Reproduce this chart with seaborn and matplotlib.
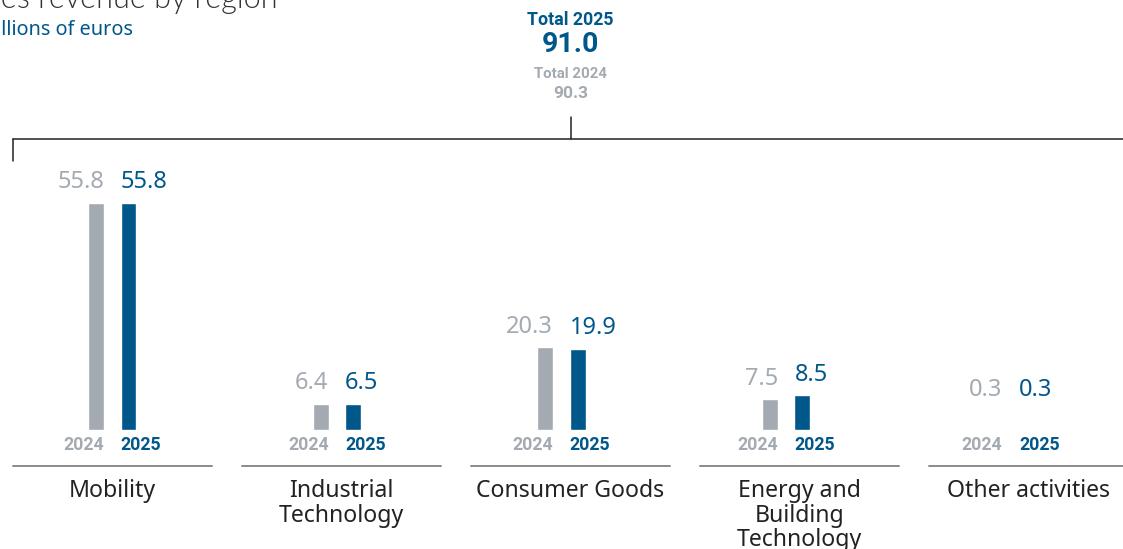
"""Sales revenue by business sector, 2024 vs 2025."""

import matplotlib.pyplot as plt
import pandas as pd
import seaborn as sns
from matplotlib.lines import Line2D

segments = ["Mobility", "Industrial\nTechnology", "Consumer Goods",
            "Energy and\nBuilding\nTechnology", "Other activities"]
years = ["2024", "2025"]
sales_2024 = [55.8, 6.4, 20.3, 7.5, 0.3]
sales_2025 = [55.8, 6.5, 19.9, 8.5, 0.3]
total_2024 = 90.3
total_2025 = 91.0

BLUE = "#00578A"
GRAY = "#A4AAB1"
DARK = "#222222"
BOLD = ["Roboto", "DejaVu Sans"]
W, H = 1123, 549

df = pd.DataFrame({
    "segment": segments * 2,
    "year": [years[0]] * len(segments) + [years[1]] * len(segments),
    "sales": sales_2024 + sales_2025,
})

sns.set_theme(style="white")
plt.rcParams["font.family"] = ["Noto Sans", "DejaVu Sans"]

fig = plt.figure(figsize=(W / 100, H / 100), dpi=100)
ax = fig.add_axes([0, 0, 1, 1])
ax.set_axis_off()


def fx(px):
    return px / W


def fy(py):
    return 1 - py / H


# scale: 229 px per category, ~4.07 px per billion, baseline at y=430 px
px_unit = 229.0
py_unit = 4.068
ax.set_xlim(-112.5 / px_unit, (W - 112.5) / px_unit)
ax.set_ylim(-(H - 430) / py_unit, 430 / py_unit)

sns.barplot(data=df, x="segment", y="sales", hue="year", hue_order=years,
            palette=[GRAY, BLUE], width=0.288, gap=0.515, saturation=1,
            errorbar=None, legend=False, ax=ax)

# value labels and year labels: 2024 flush right with its bar, 2025 flush left
for cont, year, color, side in zip(ax.containers, years, [GRAY, BLUE], ["right", "left"]):
    for bar in cont:
        xe = bar.get_x() + (bar.get_width() if side == "right" else 0)
        h = bar.get_height()
        ax.annotate(f"{h:.1f}", (xe, max(h, 4.7)), xytext=(0, 15),
                    textcoords="offset points", ha=side, va="center",
                    fontsize=17, color=color)
        ax.annotate(year, (xe, 0), xytext=(0, -11), textcoords="offset points",
                    ha=side, va="center", fontsize=12.8, fontweight="bold",
                    color=color, family=BOLD)

# group underlines and category names
for i, name in enumerate(segments):
    cx = 112.5 + i * px_unit
    fig.add_artist(Line2D([fx(cx - 99.5), fx(cx + 99.5)], [fy(466), fy(466)],
                          color="#8A8A8A", lw=1.4))
    fig.text(fx(cx), fy(479), name, ha="center", va="top", fontsize=16.6,
             color=DARK, linespacing=1.04)

# bracket at the top
fig.add_artist(Line2D([fx(13), fx(W + 5)], [fy(139), fy(139)], color=DARK, lw=1.1))
fig.add_artist(Line2D([fx(13), fx(13)], [fy(139), fy(161)], color=DARK, lw=1.1))
fig.add_artist(Line2D([fx(570.5), fx(570.5)], [fy(117), fy(139)], color=DARK, lw=1.1))

# totals
fig.text(fx(570.5), fy(20), "Total 2025", ha="center", va="center",
         fontsize=12.8, fontweight="bold", color=BLUE, family=BOLD)
fig.text(fx(570.5), fy(45), f"{total_2025:.1f}", ha="center", va="center",
         fontsize=20.5, fontweight="bold", color=BLUE, family=BOLD)
fig.text(fx(570.5), fy(74), "Total 2024", ha="center", va="center",
         fontsize=10.8, fontweight="bold", color=GRAY, family=BOLD)
fig.text(fx(570.5), fy(93), f"{total_2024:.1f}", ha="center", va="center",
         fontsize=12.5, fontweight="bold", color=GRAY, family=BOLD)

# title, partly outside the canvas as in the source
fig.text(fx(278), fy(8), "Sales revenue by region", ha="right", va="baseline",
         fontsize=22, fontweight=300, color="#333333", family=["Lato", "DejaVu Sans"])
fig.text(fx(133), fy(35), "In billions of euros", ha="right", va="baseline",
         fontsize=14.3, color=BLUE)

fig.savefig("out.png", dpi=100)
